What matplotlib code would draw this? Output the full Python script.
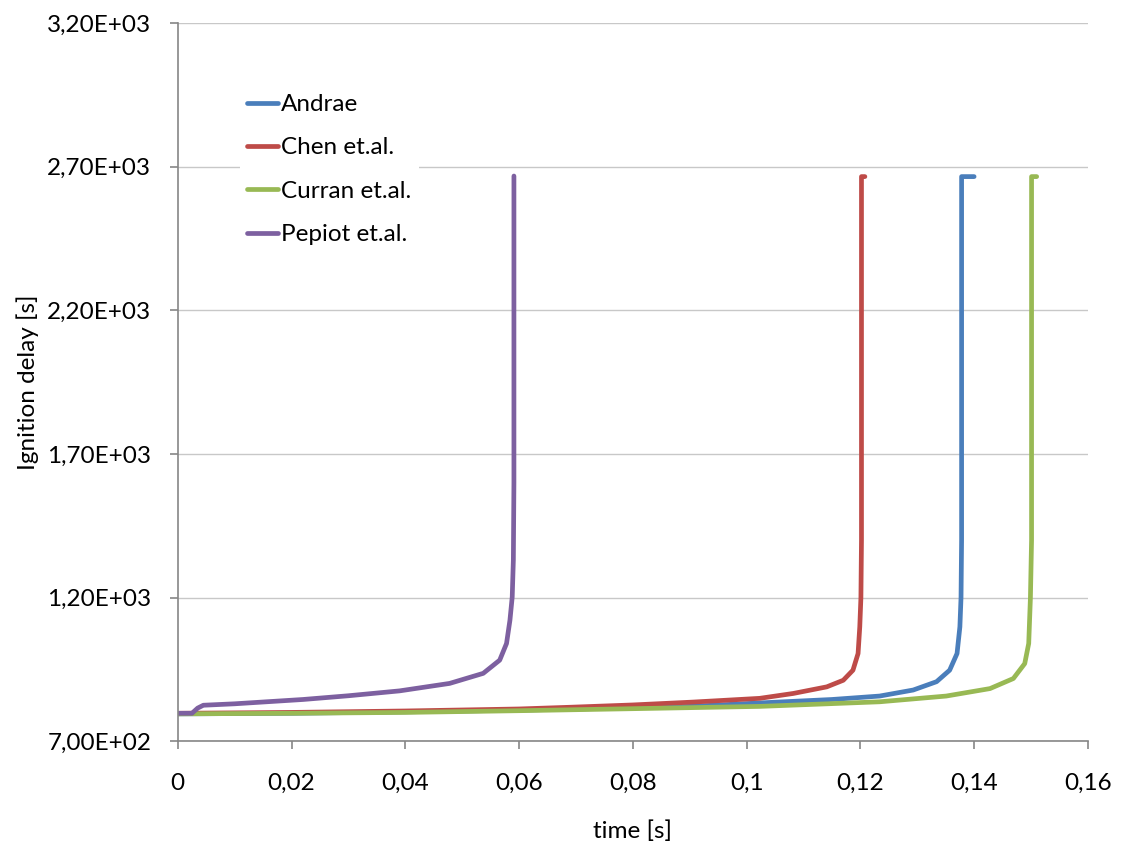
import numpy as np
import matplotlib
matplotlib.use("Agg")
import matplotlib.pyplot as plt
from matplotlib.ticker import FuncFormatter

plt.rcParams["font.family"] = ["Lato", "DejaVu Sans"]

andrae_t = [0, 0.02, 0.04, 0.06, 0.08, 0.09, 0.1023, 0.115, 0.1234, 0.1293, 0.1334, 0.1357,
            0.1370, 0.1375, 0.1377, 0.1378, 0.1378, 0.140]
andrae_y = [795, 797, 802, 808, 816, 821, 833, 845, 857, 878, 907, 947,
            1005, 1098, 1200, 1400, 2665, 2665]

chen_t = [0, 0.02, 0.04, 0.06, 0.069, 0.08, 0.0906, 0.1023, 0.1082, 0.1141, 0.1170, 0.1187,
          0.1196, 0.1199, 0.1201, 0.1202, 0.1202, 0.1208]
chen_y = [797, 800, 805, 812, 818, 826, 836, 849, 866, 889, 912, 947,
          1005, 1098, 1200, 1400, 2665, 2665]

curran_t = [0, 0.02, 0.04, 0.06, 0.08, 0.1023, 0.1234, 0.1351, 0.1428, 0.1469, 0.1489, 0.1496,
            0.1499, 0.1501, 0.1501, 0.151]
curran_y = [795, 797, 800, 806, 813, 821, 837, 857, 883, 918, 970, 1040,
            1200, 1400, 2665, 2665]

pepiot_t = [0, 0.0025, 0.0035, 0.0045, 0.01, 0.022, 0.030, 0.039, 0.0478, 0.0537, 0.0566, 0.0578,
            0.0584, 0.0588, 0.0590, 0.0591, 0.0591]
pepiot_y = [797, 797, 815, 825, 830, 845, 858, 875, 901, 936, 982, 1040,
            1121, 1202, 1330, 1600, 2667]

labels = ["Andrae", "Chen et.al.", "Curran et.al.", "Pepiot et.al."]
colors = ["#4a7ebb", "#be4b48", "#98b954", "#7d60a0"]

fig = plt.figure(figsize=(11.25, 8.48), dpi=100)
ax = fig.add_axes([0.158, 0.126, 0.809, 0.847])

series = [(andrae_t, andrae_y), (chen_t, chen_y), (curran_t, curran_y), (pepiot_t, pepiot_y)]
for (t, y), lab, c in zip(series, labels, colors):
    ax.plot(t, y, color=c, lw=3.4, label=lab, solid_joinstyle="round", solid_capstyle="round")

ax.set_xlim(0, 0.16)
ax.set_ylim(700, 3200)
ax.set_xticks(np.arange(0, 0.161, 0.02))
ax.set_yticks([700, 1200, 1700, 2200, 2700, 3200])
ax.xaxis.set_major_formatter(FuncFormatter(lambda v, p: f"{round(v, 2):g}".replace(".", ",")))
ax.yaxis.set_major_formatter(FuncFormatter(lambda v, p: f"{v:.2E}".replace(".", ",")))
ax.yaxis.grid(True, color="#c8c8c8", lw=1)
ax.set_axisbelow(True)

for s in ["top", "right"]:
    ax.spines[s].set_visible(False)
for s in ["left", "bottom"]:
    ax.spines[s].set_color("#868686")
    ax.spines[s].set_linewidth(1.2)
ax.tick_params(axis="both", colors="#868686", labelcolor="black", labelsize=17.5, length=6, width=1.2)
ax.tick_params(axis="x", pad=17)
ax.tick_params(axis="y", pad=13)

ax.set_xlabel("time [s]", fontsize=17.5, labelpad=19)
ax.set_ylabel("Ignition delay [s]", fontsize=17.5, labelpad=6)

leg = ax.legend(loc="upper left", bbox_to_anchor=(0.0545, 0.928), fontsize=17.5, frameon=True,
                handlelength=1.3, handletextpad=0.12, labelspacing=0.92, borderpad=0.3)
leg.get_frame().set_edgecolor("none")
leg.get_frame().set_facecolor("white")
leg.get_frame().set_alpha(1)

fig.savefig("out.png", dpi=100)
